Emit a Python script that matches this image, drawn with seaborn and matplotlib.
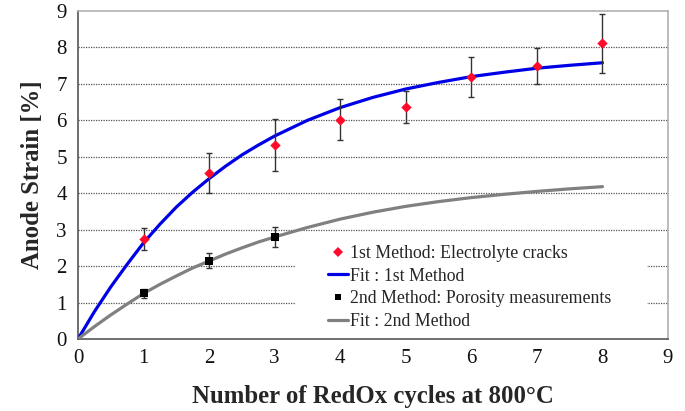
import matplotlib
matplotlib.use("Agg")
import matplotlib.pyplot as plt
import seaborn as sns
import pandas as pd
from matplotlib.patches import Rectangle
from matplotlib.lines import Line2D

# ---- data ----
cycles = [1, 2, 3, 4, 5, 6, 7, 8]
m1_strain = [2.75, 4.55, 5.32, 6.02, 6.37, 7.20, 7.48, 8.11]
m1_err_lo = [0.30, 0.55, 0.72, 0.57, 0.45, 0.57, 0.49, 0.80]
m1_err_hi = [0.30, 0.55, 0.71, 0.56, 0.43, 0.55, 0.50, 0.81]

m2_cycles = [1, 2, 3]
m2_strain = [1.25, 2.15, 2.80]
m2_err = [0.12, 0.21, 0.28]

fit_x = [0, 0.25, 0.5, 0.75, 1, 1.25, 1.5, 1.75, 2, 2.25, 2.5, 2.75, 3, 3.5,
         4, 4.5, 5, 5.5, 6, 6.5, 7, 7.5, 8]
fit1_y = [0, 0.75, 1.43, 2.05, 2.64, 3.15, 3.62, 4.03, 4.40, 4.74, 5.05, 5.32,
          5.57, 6.00, 6.35, 6.63, 6.86, 7.04, 7.20, 7.32, 7.43, 7.51, 7.58]
fit2_y = [0, 0.34, 0.66, 0.96, 1.25, 1.50, 1.73, 1.95, 2.14, 2.33, 2.50, 2.66,
          2.80, 3.06, 3.29, 3.48, 3.64, 3.77, 3.88, 3.97, 4.05, 4.12, 4.18]

legend_labels = ["1st Method: Electrolyte cracks", "Fit : 1st Method",
                 "2nd Method: Porosity measurements", "Fit : 2nd Method"]
x_ticks = list(range(0, 10))
y_ticks = list(range(0, 10))

RED = "#ff0a2a"
BLUE = "#0000e6"
GRAY = "#808080"

sns.set_style("white")
plt.rcParams["font.family"] = ["Liberation Serif", "DejaVu Serif"]

fig = plt.figure(figsize=(6.85, 4.11), dpi=100)
ax = fig.add_axes([78 / 685, 1 - 339 / 411, 590 / 685, 328 / 411])

df1 = pd.DataFrame({"x": fit_x, "y": fit1_y})
df2 = pd.DataFrame({"x": fit_x, "y": fit2_y})
sns.lineplot(data=df1, x="x", y="y", ax=ax, color=BLUE, lw=2.3, zorder=4)
sns.lineplot(data=df2, x="x", y="y", ax=ax, color=GRAY, lw=2.3, zorder=4)

ax.errorbar(cycles, m1_strain, yerr=[m1_err_lo, m1_err_hi], fmt="none",
            ecolor="#333333", elinewidth=1.0, capsize=2.5, capthick=1.0, zorder=5)
ax.errorbar(m2_cycles, m2_strain, yerr=m2_err, fmt="none",
            ecolor="#333333", elinewidth=1.0, capsize=2.5, capthick=1.0, zorder=5)

sns.scatterplot(x=cycles, y=m1_strain, ax=ax, marker="D", s=28, color=RED,
                edgecolor=RED, linewidth=0, zorder=6)
sns.scatterplot(x=m2_cycles, y=m2_strain, ax=ax, marker="s", s=26, color="black",
                edgecolor="black", linewidth=0, zorder=6)

ax.set_xlim(0, 9)
ax.set_ylim(0, 9)
ax.set_xticks(x_ticks)
ax.set_yticks(y_ticks)
ax.set_xticklabels([str(t) for t in x_ticks])
ax.set_yticklabels([str(t) for t in y_ticks])
ax.tick_params(axis="both", direction="out", length=5, width=1, color="#555555",
               labelsize=15, pad=3, labelcolor="#111111")
ax.tick_params(axis="x", pad=2.5)

for yv in y_ticks[1:-1]:
    ax.axhline(yv, color="#555555", lw=0.9, ls=(0, (1.0, 1.0)), zorder=1)

for s in ["left", "bottom"]:
    ax.spines[s].set_color("#555555")
    ax.spines[s].set_linewidth(1.2)
for s in ["top", "right"]:
    ax.spines[s].set_color("#b0b0b0")
    ax.spines[s].set_linewidth(1.2)

ax.set_xlabel("Number of RedOx cycles at 800°C", fontsize=17.8, fontweight="bold",
              labelpad=12)
ax.set_ylabel("Anode Strain [%]", fontsize=17.8, fontweight="bold", labelpad=9)

# white legend background that hides the gridlines
ax.add_patch(Rectangle((0.3695, 0.01), 0.595, 0.27, transform=ax.transAxes,
                       facecolor="white", edgecolor="none", zorder=2))

handles = [
    Line2D([], [], marker="D", color=RED, ls="none", markersize=5, markeredgewidth=0),
    Line2D([], [], color=BLUE, lw=2.3),
    Line2D([], [], marker="s", color="black", ls="none", markersize=5, markeredgewidth=0),
    Line2D([], [], color=GRAY, lw=2.3),
]
leg = ax.legend(handles, legend_labels, loc="upper left",
                bbox_to_anchor=(0.4235, 0.287), frameon=False, fontsize=12.8,
                handlelength=1.15, handletextpad=0.1, labelspacing=0.32,
                borderaxespad=0, borderpad=0)
leg.set_zorder(7)

fig.savefig("out.png", dpi=100)
